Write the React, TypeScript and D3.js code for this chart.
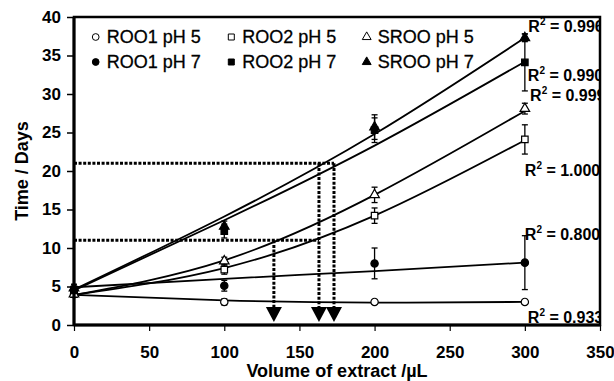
import { useEffect, useRef } from 'react';
import * as d3 from 'd3';

// volumes of extract (µL) where samples were taken
const volumes = [0, 100, 200, 300];

// measured time (days) and error, one pair per series
const roo1Ph5 = [4.0, 3.0, 3.0, 3.0];
const roo1Ph5Err = [0.3, 0.4, 0.3, 0.3];
const roo2Ph5 = [4.0, 7.2, 14.2, 24.1];
const roo2Ph5Err = [0.3, 0.6, 1.0, 1.9];
const srooPh5 = [4.0, 8.3, 16.9, 28.1];
const srooPh5Err = [0.3, 0.5, 1.0, 0.7];
const roo1Ph7 = [4.5, 5.1, 8.0, 8.1];
const roo1Ph7Err = [0.3, 0.7, 2.0, 3.5];
const roo2Ph7 = [4.6, 12.2, 25.3, 34.1];
const roo2Ph7Err = [0.6, 0.9, 1.6, 3.7];
const srooPh7 = [4.8, 12.8, 25.7, 37.3];
const srooPh7Err = [0.5, 0.7, 1.6, 0.5];

// trend line values read at the same volumes
const roo1Ph5Trend = [3.9, 3.2, 2.9, 3.0];
const roo2Ph5Trend = [3.9, 7.4, 14.2, 24.0];
const srooPh5Trend = [3.9, 8.4, 16.9, 27.8];
const roo1Ph7Trend = [4.9, 6.0, 7.0, 8.1];
const roo2Ph7Trend = [4.5, 13.6, 23.3, 34.2];
const srooPh7Trend = [4.6, 14.1, 24.8, 37.3];

const seriesNames = ['ROO1 pH 5', 'ROO2 pH 5', 'SROO pH 5', 'ROO1 pH 7', 'ROO2 pH 7', 'SROO pH 7'];

// R² labels and where they sit (data units)
const r2Values = ['0.933', '1.000', '0.999', '0.800', '0.990', '0.996'];
const r2LabelX = [302, 300, 303.5, 300, 302, 302.3];
const r2LabelY = [0.3, 19.3, 29.1, 11.0, 31.7, 38.0];

// dotted read-off guides
const guideLevels = [11, 21];
const guideLevelEnds = [163, 173];
const arrowVolumes = [133, 163, 173];
const arrowFrom = [11, 21, 21];

const xTicks = [0, 50, 100, 150, 200, 250, 300, 350];
const yTicks = [0, 5, 10, 15, 20, 25, 30, 35, 40];

const FONT = 'Arial, "Liberation Sans", sans-serif';

export default function App() {
    const svgRef = useRef<SVGSVGElement>(null);
    const width = 614;
    const height = 381;
    const margin = { top: 17, right: 14, bottom: 56, left: 74 };

    useEffect(() => {
        const svg = d3.select(svgRef.current);
        svg.selectAll('*').remove();

        const innerWidth = width - margin.left - margin.right;
        const innerHeight = height - margin.top - margin.bottom;

        const x = d3.scaleLinear().domain([0, 350]).range([0, innerWidth]);
        const y = d3.scaleLinear().domain([0, 40]).range([innerHeight, 0]);

        const g = svg.append('g').attr('transform', `translate(${margin.left},${margin.top})`);

        svg.append('defs')
            .append('clipPath')
            .attr('id', 'plot-clip')
            .append('rect')
            .attr('x', 0)
            .attr('y', -margin.top)
            .attr('width', innerWidth)
            .attr('height', innerHeight + margin.top);

        const series = [
            { name: seriesNames[0], values: roo1Ph5, err: roo1Ph5Err, trend: roo1Ph5Trend, shape: 'circle', filled: false },
            { name: seriesNames[1], values: roo2Ph5, err: roo2Ph5Err, trend: roo2Ph5Trend, shape: 'square', filled: false },
            { name: seriesNames[2], values: srooPh5, err: srooPh5Err, trend: srooPh5Trend, shape: 'triangle', filled: false },
            { name: seriesNames[3], values: roo1Ph7, err: roo1Ph7Err, trend: roo1Ph7Trend, shape: 'circle', filled: true },
            { name: seriesNames[4], values: roo2Ph7, err: roo2Ph7Err, trend: roo2Ph7Trend, shape: 'square', filled: true },
            { name: seriesNames[5], values: srooPh7, err: srooPh7Err, trend: srooPh7Trend, shape: 'triangle', filled: true },
        ];

        const symbolFor = (shape: string, size: number) => {
            const type = shape === 'circle' ? d3.symbolCircle : shape === 'square' ? d3.symbolSquare : d3.symbolTriangle;
            return d3.symbol().type(type).size(size)();
        };

        // trend lines
        const trendLine = d3.line<number>()
            .x((_, i) => x(volumes[i]))
            .y(d => y(d))
            .curve(d3.curveNatural);

        series.forEach(s => {
            g.append('path')
                .datum(s.trend)
                .attr('fill', 'none')
                .attr('stroke', '#000')
                .attr('stroke-width', 1.8)
                .attr('d', trendLine);
        });

        // error bars
        series.forEach(s => {
            s.values.forEach((v, i) => {
                const cx = x(volumes[i]);
                const lo = y(v - s.err[i]);
                const hi = y(v + s.err[i]);
                const eb = g.append('g').attr('stroke', '#000').attr('stroke-width', 1.3);
                eb.append('line').attr('x1', cx).attr('x2', cx).attr('y1', lo).attr('y2', hi);
                eb.append('line').attr('x1', cx - 3).attr('x2', cx + 3).attr('y1', lo).attr('y2', lo);
                eb.append('line').attr('x1', cx - 3).attr('x2', cx + 3).attr('y1', hi).attr('y2', hi);
            });
        });

        // markers
        series.forEach(s => {
            g.selectAll(null)
                .data(s.values)
                .enter()
                .append('path')
                .attr('transform', (d, i) => `translate(${x(volumes[i])},${y(d)})`)
                .attr('d', symbolFor(s.shape, s.shape === 'triangle' ? 40 : 42))
                .attr('fill', s.filled ? '#000' : '#fff')
                .attr('stroke', '#000')
                .attr('stroke-width', 1.2);
        });

        // dotted guides
        const dotted = g.append('g')
            .attr('stroke', '#000')
            .attr('stroke-width', 3)
            .attr('stroke-dasharray', '3,1.6')
            .attr('fill', 'none');

        guideLevels.forEach((lvl, i) => {
            dotted.append('line')
                .attr('x1', x(0))
                .attr('x2', x(guideLevelEnds[i]))
                .attr('y1', y(lvl))
                .attr('y2', y(lvl));
        });

        const arrowH = 15;
        const arrowW = 16;
        const arrowTip = y(0) - 3;
        arrowVolumes.forEach((v, i) => {
            dotted.append('line')
                .attr('x1', x(v))
                .attr('x2', x(v))
                .attr('y1', y(arrowFrom[i]))
                .attr('y2', arrowTip - arrowH);
            g.append('path')
                .attr('d', `M${x(v) - arrowW / 2},${arrowTip - arrowH}L${x(v) + arrowW / 2},${arrowTip - arrowH}L${x(v)},${arrowTip}Z`)
                .attr('fill', '#000');
        });

        // R² labels
        const labels = g.append('g').attr('clip-path', 'url(#plot-clip)');
        r2Values.forEach((r, i) => {
            const t = labels.append('text')
                .attr('x', x(r2LabelX[i]))
                .attr('y', y(r2LabelY[i]))
                .attr('font-family', FONT)
                .attr('font-weight', 'bold')
                .attr('font-size', 16);
            t.append('tspan').text('R');
            t.append('tspan').attr('font-size', 10).attr('dy', -7).text('2');
            t.append('tspan').attr('dy', 7).text(` = ${r}`);
        });

        // legend
        const legendCols = [95.7, 231.3, 366.7];
        const legendRows = [37, 62];
        series.forEach((s, i) => {
            const lx = legendCols[i % 3] - margin.left;
            const ly = legendRows[Math.floor(i / 3)] - margin.top;
            g.append('path')
                .attr('transform', `translate(${lx},${ly})`)
                .attr('d', symbolFor(s.shape, s.shape === 'triangle' ? 34 : 36))
                .attr('fill', s.filled ? '#000' : '#fff')
                .attr('stroke', '#000')
                .attr('stroke-width', 1);
            g.append('text')
                .attr('x', lx + 11)
                .attr('y', ly + 6.3)
                .attr('font-family', FONT)
                .attr('font-size', 18)
                .attr('stroke', '#000')
                .attr('stroke-width', 0.3)
                .text(s.name);
        });

        // axes
        const yAxis = g.append('g')
            .call(d3.axisLeft(y).tickValues(yTicks).tickSize(7).tickPadding(6));
        yAxis.select('.domain').remove();
        yAxis.selectAll('line').attr('stroke-width', 1.5);
        yAxis.selectAll('text')
            .attr('font-family', FONT)
            .attr('font-weight', 'bold')
            .attr('font-size', 17)
            .attr('fill', '#000');

        const xAxis = g.append('g')
            .attr('transform', `translate(0,${innerHeight})`)
            .call(d3.axisBottom(x).tickValues(xTicks).tickSize(6).tickPadding(15));
        xAxis.select('.domain').remove();
        xAxis.selectAll('line').attr('stroke-width', 1.2);
        xAxis.selectAll('text')
            .attr('font-family', FONT)
            .attr('font-weight', 'bold')
            .attr('font-size', 17)
            .attr('fill', '#000');

        // frame
        g.append('rect')
            .attr('x', 0)
            .attr('y', 0)
            .attr('width', innerWidth)
            .attr('height', innerHeight)
            .attr('fill', 'none')
            .attr('stroke', '#000')
            .attr('stroke-width', 2.5);
        g.append('line')
            .attr('x1', 0).attr('x2', 0)
            .attr('y1', 0).attr('y2', innerHeight)
            .attr('stroke', '#000').attr('stroke-width', 3);
        g.append('line')
            .attr('x1', 0).attr('x2', innerWidth)
            .attr('y1', innerHeight).attr('y2', innerHeight)
            .attr('stroke', '#000').attr('stroke-width', 3);

        // axis titles
        svg.append('text')
            .attr('x', margin.left + innerWidth / 2)
            .attr('y', 377)
            .attr('text-anchor', 'middle')
            .attr('font-family', FONT)
            .attr('font-weight', 'bold')
            .attr('font-size', 18)
            .text('Volume of extract /µL');

        svg.append('text')
            .attr('transform', `translate(28,${margin.top + innerHeight / 2}) rotate(-90)`)
            .attr('text-anchor', 'middle')
            .attr('font-family', FONT)
            .attr('font-weight', 'bold')
            .attr('font-size', 18)
            .text('Time / Days');
    }, []);

    return (
        <svg
            ref={svgRef}
            width={width}
            height={height}
            style={{ position: 'absolute', left: 0, top: 0, background: '#fff' }}
        />
    );
}
